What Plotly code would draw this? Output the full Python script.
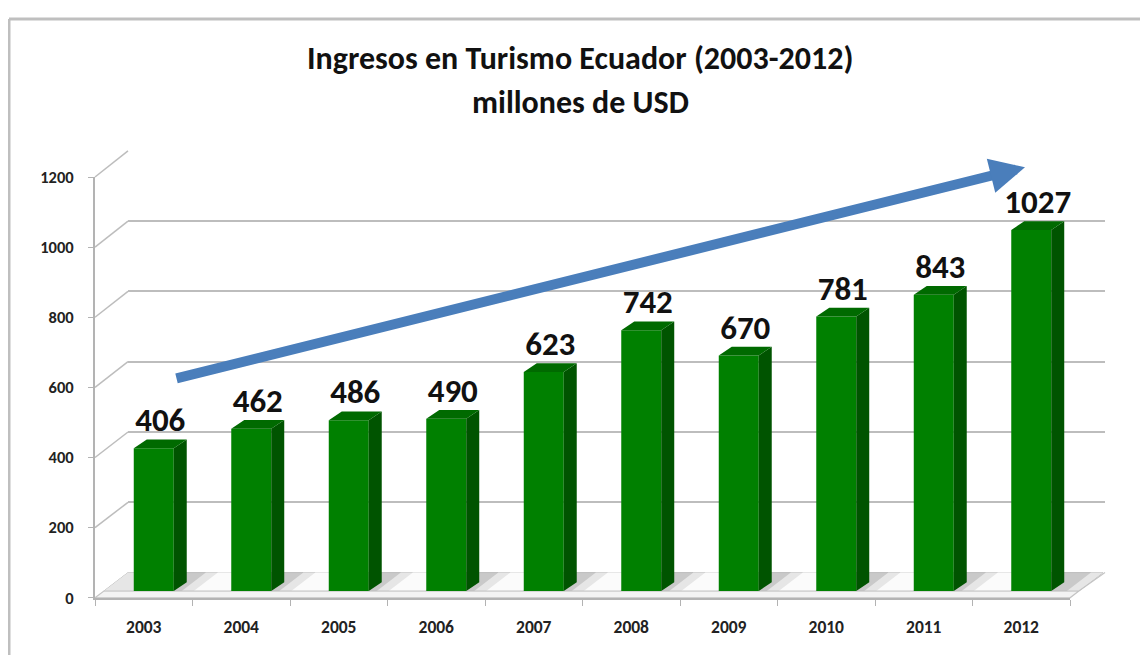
import plotly.graph_objects as go

# data
years = ['2003', '2004', '2005', '2006', '2007', '2008', '2009', '2010', '2011', '2012']
values = [406, 462, 486, 490, 623, 742, 670, 781, 843, 1027]
y_ticks = [0, 200, 400, 600, 800, 1000, 1200]
title_lines = ['Ingresos en Turismo Ecuador (2003-2012)', 'millones de USD']

W, H = 1148, 657
OFF = 8  # page margin around the plot div
Y_MAX = 1200

# page-pixel geometry of the fake 3D box
FRONT = dict(x0=95, x1=1070, y0=606, y1=172)
BACK = dict(x0=128, x1=1105, y0=580, y1=145)
BARS = dict(x0=105, x1=1080, y0=599, y1=164)

FONT = "Carlito, Calibri, 'Open Sans', sans-serif"
GRID = '#bdbdbd'
AXIS = '#b3b3b3'
GREEN, GREEN_SIDE, GREEN_TOP = '#008000', '#005400', '#006a00'


def xdom(g):
    return [(g['x0'] - OFF) / W, (g['x1'] - OFF) / W]


def ydom(g):
    return [1 - (g['y0'] - OFF) / H, 1 - (g['y1'] - OFF) / H]


def py(g, v):
    return g['y0'] + (g['y1'] - g['y0']) * v / Y_MAX


n = len(values)
idx = list(range(n))
bar_w = 0.41
cat_px = (BARS['x1'] - BARS['x0']) / n
dx = 13 / cat_px
dy = 9 * Y_MAX / (BARS['y0'] - BARS['y1'])

fig = go.Figure()

# back wall grid (xy)
fig.add_trace(go.Scatter(x=[0, 1], y=[0, 0], mode='lines', line=dict(width=0),
                         hoverinfo='skip', showlegend=False, xaxis='x', yaxis='y'))

# floor, shadows and wall connectors in page-pixel space (x2y2)
floor_top = BARS['y0']
slope = (BACK['x0'] - FRONT['x0']) / (FRONT['y0'] - BACK['y0'])  # px right per px up


def floor_quad(xa, xb, y_lo, y_hi):
    # parallelogram on the floor between two depths
    s_lo = (FRONT['y0'] - y_lo) * slope
    s_hi = (FRONT['y0'] - y_hi) * slope
    return [xa + s_lo, xb + s_lo, xb + s_hi, xa + s_hi, xa + s_lo, None], [y_lo, y_lo, y_hi, y_hi, y_lo, None]


fx, fy = floor_quad(FRONT['x0'], FRONT['x1'], floor_top, BACK['y0'])
fig.add_trace(go.Scatter(x=fx, y=fy, mode='lines', fill='toself', fillcolor='#c9c9c9',
                         line=dict(color='#bdbdbd', width=1), hoverinfo='skip',
                         showlegend=False, xaxis='x2', yaxis='y2'))
lx, ly, wx, wy = [], [], [], []
for i in range(n - 1):
    c = BARS['x0'] + cat_px * (i + 0.5) - (FRONT['y0'] - floor_top) * slope
    a, b = floor_quad(c + 28, c + 84, floor_top, BACK['y0'])
    lx += a
    ly += b
    a, b = floor_quad(c + 40, c + 76, floor_top, BACK['y0'])
    wx += a
    wy += b
a, b = floor_quad(FRONT['x0'], FRONT['x0'] + 30, floor_top, BACK['y0'])
lx += a
ly += b
a, b = floor_quad(FRONT['x1'] - 12, FRONT['x1'], floor_top, BACK['y0'])
lx += a
ly += b
fig.add_trace(go.Scatter(x=lx, y=ly, mode='lines', fill='toself', fillcolor='#e6e6e6',
                         line=dict(width=0), hoverinfo='skip', showlegend=False,
                         xaxis='x2', yaxis='y2'))
fig.add_trace(go.Scatter(x=wx, y=wy, mode='lines', fill='toself', fillcolor='#fbfbfb',
                         line=dict(width=0), hoverinfo='skip', showlegend=False,
                         xaxis='x2', yaxis='y2'))
# front slab of the floor
sx0 = (FRONT['y0'] - floor_top) * slope
fig.add_trace(go.Scatter(
    x=[FRONT['x0'], FRONT['x1'], FRONT['x1'] + sx0, FRONT['x1'] + sx0 + (BACK['x1'] - FRONT['x1'] - sx0),
       BACK['x1'], FRONT['x1'] + sx0, FRONT['x0'] + sx0, FRONT['x0']],
    y=[FRONT['y0'], FRONT['y0'], floor_top, BACK['y0'], BACK['y0'], floor_top, floor_top, FRONT['y0']],
    mode='lines', fill='toself', fillcolor='rgba(235,235,235,0.6)',
    line=dict(color='#c4c4c4', width=1.2), hoverinfo='skip', showlegend=False,
    xaxis='x2', yaxis='y2'))
cx, cy = [], []
for t in y_ticks[1:]:
    cx += [FRONT['x0'], BACK['x0'], None]
    cy += [py(FRONT, t), py(BACK, t), None]
fig.add_trace(go.Scatter(x=cx, y=cy, mode='lines', line=dict(color=GRID, width=1.5),
                         hoverinfo='skip', showlegend=False, xaxis='x2', yaxis='y2'))

# bars (x3y3)
fig.add_trace(go.Bar(x=idx, y=values, width=bar_w, marker=dict(color=GREEN, line=dict(width=0)),
                     hoverinfo='skip', showlegend=False, xaxis='x3', yaxis='y3'))
sx, sy, tx, ty = [], [], [], []
for i, v in zip(idx, values):
    xl, xr = i - bar_w / 2, i + bar_w / 2
    sx += [xr, xr + dx, xr + dx, xr, xr, None]
    sy += [0, dy, v + dy, v, 0, None]
    tx += [xl, xl + dx, xr + dx, xr, xl, None]
    ty += [v, v + dy, v + dy, v, v, None]
fig.add_trace(go.Scatter(x=sx, y=sy, mode='lines', fill='toself', fillcolor=GREEN_SIDE,
                         line=dict(width=0), hoverinfo='skip', showlegend=False,
                         xaxis='x3', yaxis='y3'))
fig.add_trace(go.Scatter(x=tx, y=ty, mode='lines', fill='toself', fillcolor=GREEN_TOP,
                         line=dict(width=0), hoverinfo='skip', showlegend=False,
                         xaxis='x3', yaxis='y3'))
fig.add_trace(go.Scatter(x=[i + dx / 2 for i in idx], y=[v + dy for v in values],
                         mode='text', text=[str(v) for v in values], textposition='top center',
                         textfont=dict(family=FONT, size=33, color='#111111', weight='bold'),
                         hoverinfo='skip', showlegend=False, cliponaxis=False,
                         xaxis='x3', yaxis='y3'))

# front axes (x4y4)
fig.add_trace(go.Scatter(x=years, y=[0] * n, mode='lines', line=dict(width=0),
                         hoverinfo='skip', showlegend=False, xaxis='x4', yaxis='y4'))

axis_off = dict(visible=False, fixedrange=True)

fig.update_layout(
    width=W, height=H,
    margin=dict(l=0, r=0, t=0, b=0),
    paper_bgcolor='white', plot_bgcolor='rgba(0,0,0,0)',
    showlegend=False,
    xaxis=dict(domain=xdom(BACK), range=[0, 1], anchor='y', **axis_off),
    yaxis=dict(domain=ydom(BACK), range=[0, Y_MAX], anchor='x', tickvals=y_ticks,
               showgrid=True, gridcolor=GRID, gridwidth=2, showticklabels=False,
               zeroline=False, showline=False, fixedrange=True),
    xaxis2=dict(domain=[0, 1], range=[OFF, W + OFF], anchor='y2', **axis_off),
    yaxis2=dict(domain=[0, 1], range=[H + OFF, OFF], anchor='x2', **axis_off),
    xaxis3=dict(domain=xdom(BARS), range=[-0.5, n - 0.5], anchor='y3', **axis_off),
    yaxis3=dict(domain=ydom(BARS), range=[0, Y_MAX], anchor='x3', **axis_off),
    xaxis4=dict(domain=xdom(FRONT), range=[-0.5, n - 0.5], anchor='y4', type='category',
                tickson='boundaries', ticks='outside', ticklen=6, tickcolor=AXIS,
                showline=True, linecolor=AXIS, linewidth=2, showgrid=False,
                zeroline=False, ticklabelstandoff=12,
                tickfont=dict(family=FONT, size=17.5, color='#222222', weight='bold'),
                fixedrange=True),
    yaxis4=dict(domain=ydom(FRONT), range=[0, Y_MAX], anchor='x4', tickvals=y_ticks,
                ticks='outside', ticklen=5, tickcolor=AXIS, showline=True,
                linecolor=AXIS, linewidth=2, showgrid=False, zeroline=False,
                tickfont=dict(family=FONT, size=16.5, color='#222222', weight='bold'),
                ticklabelstandoff=11, fixedrange=True),
    font=dict(family=FONT),
)

# title
for text, y in zip(title_lines, [50, 95]):
    fig.add_annotation(text=text, x=580, y=y, xref='x2', yref='y2',
                       showarrow=False, xanchor='center', yanchor='middle',
                       font=dict(family=FONT, size=32, color='#111111', weight='bold'))

# trend arrow
fig.add_annotation(x=1025, y=162, ax=175, ay=380, xref='x2', yref='y2', axref='x2', ayref='y2',
                   text='', showarrow=True, arrowhead=2, arrowsize=0.7, arrowwidth=10,
                   arrowcolor='#4a7ebb')

# chart frame
fig.add_shape(type='line', xref='paper', yref='paper', x0=1 / W, x1=1, y0=1 - 1 / H, y1=1 - 1 / H,
              line=dict(color='#bfbfbf', width=3))
fig.add_shape(type='line', xref='paper', yref='paper', x0=1 / W, x1=1 / W, y0=0, y1=1 - 1 / H,
              line=dict(color='#bfbfbf', width=3))

fig.write_html("out.html")
